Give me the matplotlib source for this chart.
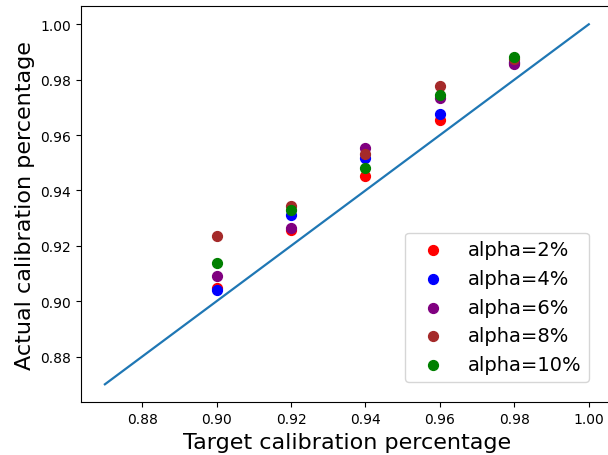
import matplotlib
matplotlib.use("Agg")
import matplotlib.pyplot as plt
import numpy as np

targets = [0.90, 0.92, 0.94, 0.96, 0.98]
labels = ["alpha=2%", "alpha=4%", "alpha=6%", "alpha=8%", "alpha=10%"]
colors = ["red", "blue", "purple", "brown", "green"]
actual_2 = [0.9048, 0.9256, 0.9452, 0.9654, 0.9862]
actual_4 = [0.9039, 0.9313, 0.9518, 0.9677, 0.9865]
actual_6 = [0.9090, 0.9265, 0.9552, 0.9733, 0.9857]
actual_8 = [0.9237, 0.9343, 0.9530, 0.9777, 0.9875]
actual_10 = [0.9139, 0.9331, 0.9482, 0.9743, 0.9882]
series = [actual_2, actual_4, actual_6, actual_8, actual_10]
diag = [0.87, 1.00]

fig = plt.figure(figsize=(6.08, 4.56), dpi=100)
ax = fig.add_axes([80.7/608, (456-403.3)/456, (613-80.7)/608, (403.3-7.3)/456])
ax.plot(diag, diag, color="C0", lw=1.6)
for ys, c, lab in zip(series, colors, labels):
    ax.scatter(targets, ys, color=c, s=50, label=lab, zorder=3)
ax.set_xlim(0.8635, 1.0065)
ax.set_ylim(0.8635, 1.0065)
ax.set_xticks([0.88, 0.90, 0.92, 0.94, 0.96, 0.98, 1.00])
ax.set_yticks([0.88, 0.90, 0.92, 0.94, 0.96, 0.98, 1.00])
ax.set_xlabel("Target calibration percentage", fontsize=16)
ax.set_ylabel("Actual calibration percentage", fontsize=16)
leg = ax.legend(fontsize=14, loc="lower right",
                bbox_to_anchor=((589-80.7)/(613-80.7), (403.3-383)/(403.3-7.3)),
                borderaxespad=0)
fig.savefig("out.png", dpi=100)
